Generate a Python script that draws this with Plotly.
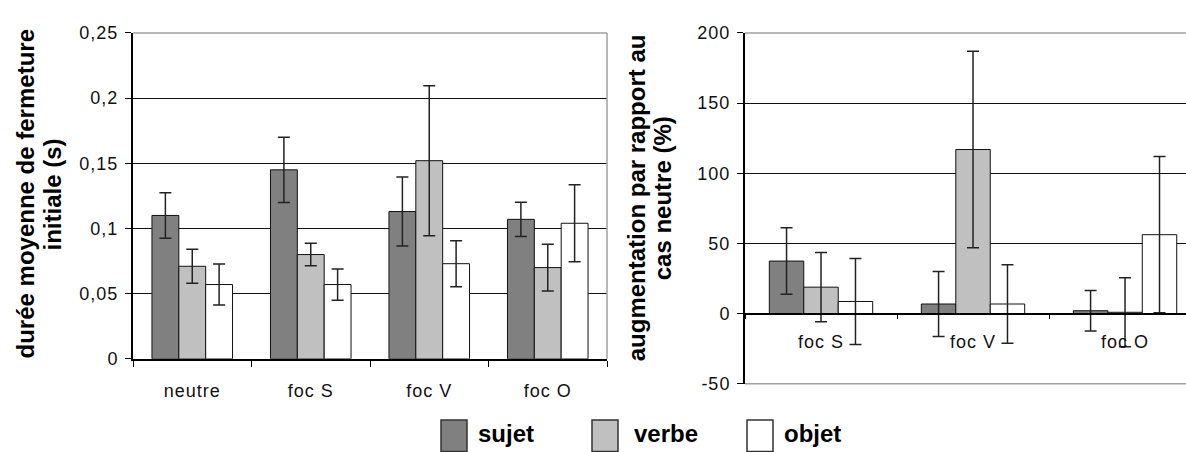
import plotly.graph_objects as go

# ---- data ----
series = ["sujet", "verbe", "objet"]
colors = ["#808080", "#c0c0c0", "#ffffff"]

# left panel: mean initial closure duration (s)
cats_left = ["neutre", "foc S", "foc V", "foc O"]
left_vals = {
    "sujet": [0.110, 0.145, 0.113, 0.107],
    "verbe": [0.071, 0.080, 0.152, 0.070],
    "objet": [0.057, 0.057, 0.073, 0.104],
}
left_errs = {
    "sujet": [0.0175, 0.025, 0.0264, 0.0132],
    "verbe": [0.013, 0.0086, 0.0575, 0.018],
    "objet": [0.0157, 0.012, 0.0176, 0.0296],
}
left_ticks = [0, 0.05, 0.1, 0.15, 0.2, 0.25]
left_ticktext = ["0", "0,05", "0,1", "0,15", "0,2", "0,25"]

# right panel: increase relative to the neutral case (%)
cats_right = ["foc S", "foc V", "foc O"]
right_vals = {
    "sujet": [37.4, 6.8, 2.0],
    "verbe": [18.8, 116.9, 0.9],
    "objet": [8.6, 6.8, 56.2],
}
right_errs = {
    "sujet": [23.7, 23.2, 14.4],
    "verbe": [24.7, 70.0, 24.6],
    "objet": [30.7, 28.0, 55.7],
}
right_ticks = [-50, 0, 50, 100, 150, 200]
right_ticktext = ["-50", "0", "50", "100", "150", "200"]

# ---- geometry helpers (pixel -> paper) ----
W, H = 1186, 452
def xp(px):
    return px / W
def yp(py):
    return 1 - py / H

FONT = "Liberation Sans, Arial, sans-serif"

def spaced(t, s=1.0):
    return f'<span style="letter-spacing:{s}px">{t}</span>'

fig = go.Figure()

for name, col in zip(series, colors):
    fig.add_trace(go.Bar(
        x=cats_left, y=left_vals[name], name=name,
        marker=dict(color=col, line=dict(color="#111", width=1)),
        error_y=dict(type="data", array=left_errs[name], color="#222",
                     thickness=1.5, width=6),
        xaxis="x", yaxis="y", showlegend=False,
    ))
    fig.add_trace(go.Bar(
        x=cats_right, y=right_vals[name], name=name,
        marker=dict(color=col, line=dict(color="#111", width=1)),
        error_y=dict(type="data", array=right_errs[name], color="#222",
                     thickness=1.5, width=6),
        xaxis="x2", yaxis="y2", showlegend=False,
    ))

# right panel layout values
r_dom = [yp(391), yp(24)]
r_rng = [-50, 200]
zero_pos = r_dom[0] + (0 - r_rng[0]) / (r_rng[1] - r_rng[0]) * (r_dom[1] - r_dom[0])

tickfont = dict(family=FONT, size=18, color="#111")

fig.update_layout(
    width=W, height=H, autosize=False,
    margin=dict(l=0, r=0, t=0, b=0),
    paper_bgcolor="white", plot_bgcolor="white",
    barmode="group",
    bargap=0.32, bargroupgap=0,
    showlegend=False,
    xaxis=dict(
        domain=[xp(133), xp(607)], anchor="y",
        type="category", categoryorder="array", categoryarray=cats_left,
        tickmode="array", tickvals=cats_left,
        ticktext=[spaced(c) for c in cats_left],
        tickson="boundaries", ticks="outside", ticklen=6, tickcolor="#000",
        showline=True, linecolor="#000", linewidth=2,
        showgrid=False, tickfont=tickfont, ticklabelstandoff=15,
        range=[-0.5, 3.5],
    ),
    yaxis=dict(
        domain=[yp(365), yp(24)], anchor="x",
        range=[0, 0.25], tickmode="array", tickvals=left_ticks,
        ticktext=[spaced(t) for t in left_ticktext],
        ticks="outside", ticklen=6, tickcolor="#000",
        showline=True, linecolor="#000", linewidth=2,
        showgrid=True, gridcolor="#111", gridwidth=1,
        zeroline=False, tickfont=tickfont, ticklabelstandoff=3,
    ),
    xaxis2=dict(
        domain=[xp(745), 1.0], anchor="free", position=zero_pos,
        type="category", categoryorder="array", categoryarray=cats_right,
        tickmode="array", tickvals=cats_right,
        ticktext=[spaced(c) for c in cats_right],
        tickson="boundaries", ticks="outside", ticklen=5, tickcolor="#000",
        showline=True, linecolor="#000", linewidth=1.5,
        showgrid=False, tickfont=tickfont, ticklabelstandoff=12,
        range=[-0.5, 2.401],
    ),
    yaxis2=dict(
        domain=r_dom, anchor="x2",
        range=r_rng, tickmode="array", tickvals=right_ticks,
        ticktext=[spaced(t) for t in right_ticktext],
        ticks="outside", ticklen=6, tickcolor="#000",
        showline=True, linecolor="#000", linewidth=2,
        showgrid=True, gridcolor="#111", gridwidth=1,
        zeroline=False, tickfont=tickfont, ticklabelstandoff=3,
    ),
)

# plot-area frame edges in grey
border = dict(color="#a0a0a0", width=1.5)
fig.add_shape(type="line", xref="x domain", yref="y domain", x0=0, x1=1, y0=1, y1=1, line=border, layer="above")
fig.add_shape(type="line", xref="x domain", yref="y domain", x0=1, x1=1, y0=0, y1=1, line=border, layer="above")
fig.add_shape(type="line", xref="x2 domain", yref="y2 domain", x0=0, x1=1, y0=1, y1=1, line=border, layer="above")
fig.add_shape(type="line", xref="x2 domain", yref="y2 domain", x0=0, x1=1, y0=0, y1=0, line=border, layer="above")

# axis titles, one annotation per line
title_font = dict(family=FONT, size=24, color="#000")
titles = [
    ("<b>durée moyenne de fermeture</b>", 25, 193),
    ("<b>initiale (s)</b>", 52, 193),
    ("<b>augmentation par rapport au</b>", 636, 197),
    ("<b>cas neutre (%)</b>", 662, 197),
]
for txt, tx, ty in titles:
    fig.add_annotation(text=txt, x=xp(tx), y=yp(ty), xref="paper", yref="paper",
                       textangle=-90, showarrow=False, xanchor="center", yanchor="middle",
                       font=title_font)

# legend: swatches and labels
legend_box_x = [441, 592, 747]
legend_text_x = [476, 632, 782]
for name, col, bx, tx in zip(series, colors, legend_box_x, legend_text_x):
    fig.add_shape(type="rect", xref="paper", yref="paper",
                  x0=xp(bx), x1=xp(bx + 26), y0=yp(429), y1=yp(462),
                  fillcolor=col, line=dict(color="#333", width=1.5))
    fig.add_annotation(text=f"<b>{name}</b>", x=xp(tx), y=yp(443), xref="paper", yref="paper",
                       showarrow=False, xanchor="left", yanchor="middle",
                       font=dict(family=FONT, size=24, color="#000"))

fig.write_html("out.html")
